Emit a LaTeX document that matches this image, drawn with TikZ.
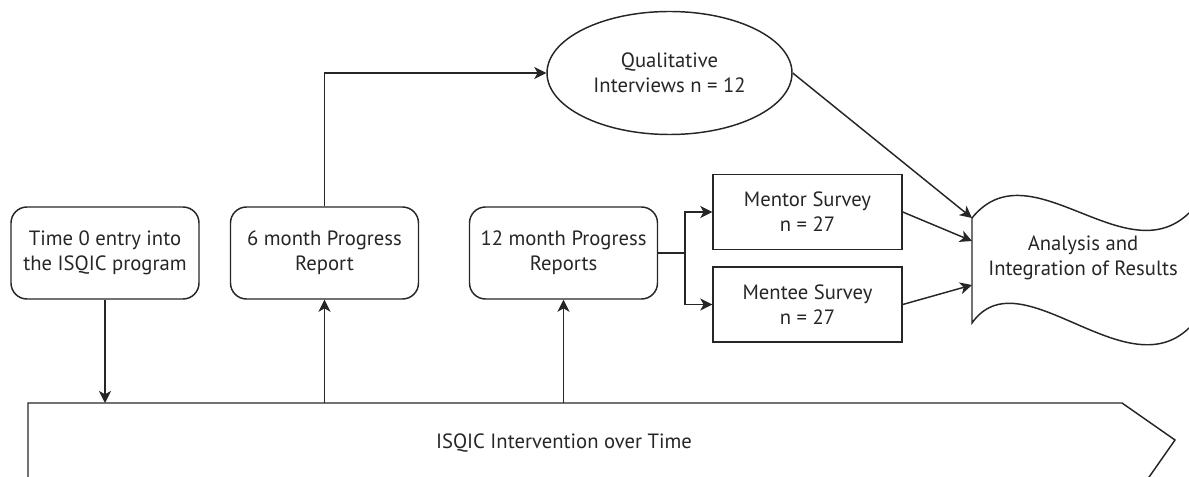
\documentclass[tikz,border=0pt]{standalone}
\usepackage{fontspec}
\setmainfont{PT Sans}
\usetikzlibrary{arrows.meta,shapes.geometric}
\begin{document}
\begin{tikzpicture}[x=0.75pt,y=-0.75pt,
  line width=1.1pt, draw=black!85,
  every node/.style={font=\fontsize{15.5pt}{18.75pt}\selectfont, align=center, text=black!85},
  rbox/.style={draw, rounded corners=12pt, minimum width=141pt, minimum height=69pt, inner sep=0pt},
  sbox/.style={draw, minimum width=141.75pt, minimum height=56.5pt, inner sep=0pt},
  oval/.style={draw, ellipse, minimum width=183.75pt, minimum height=92.25pt, inner sep=0pt},
  arr/.style={-{Stealth[length=9pt,width=9pt,inset=2.5pt]}}]
\useasboundingbox (0,0) rectangle (1189,477);
\clip (0,0) rectangle (1189,477);
% big timeline arrow
\coordinate (bigtop) at (28,403);
\draw (28,490) -- (bigtop) -- (1122,403) -- (1175,440) -- (1140,490);
\node (timeline) at (564,443) {ISQIC Intervention over Time};
% boxes
\node[rbox] (t0) at (105,253) {Time 0 entry into\\the ISQIC program};
\node[rbox] (m6) at (324.5,253) {6 month Progress\\Report};
\node[rbox] (m12) at (563.5,253) {12 month Progress\\Reports};
\node[oval] (ell) at (669.5,73) {Qualitative\\Interviews n = 12};
\node[sbox] (mentor) at (807.5,212) {Mentor Survey\\n = 27};
\node[sbox] (mentee) at (807.5,304.5) {Mentee Survey\\n = 27};
% analysis wavy shape
\coordinate (an1) at (972,218);
\coordinate (an2) at (972,241);
\coordinate (an3) at (972,285);
\draw (1189,213) .. controls (1125,275) and (1030,146) .. (972,218) -- (972,323)
      .. controls (1020,255) and (1125,390) .. (1189,328);
\node (analysis) at (1083,258) {Analysis and\\Integration of Results};
% connectors
\draw[arr] (t0.south) -- (t0.south |- bigtop);
\draw[arr] (m6.south |- bigtop) -- (m6.south);
\draw[arr] (m12.south |- bigtop) -- (m12.south);
\draw[arr] (m6.north) |- (ell.west);
\coordinate (split) at (685,253);
\draw[arr] (m12.east) -- (split) |- (mentor.west);
\draw[arr] (split) |- (mentee.west);
\draw[arr] (ell.east) -- (an1);
\draw[arr] (mentor.east) -- (an2);
\draw[arr] (mentee.east) -- (an3);
\end{tikzpicture}
\end{document}
